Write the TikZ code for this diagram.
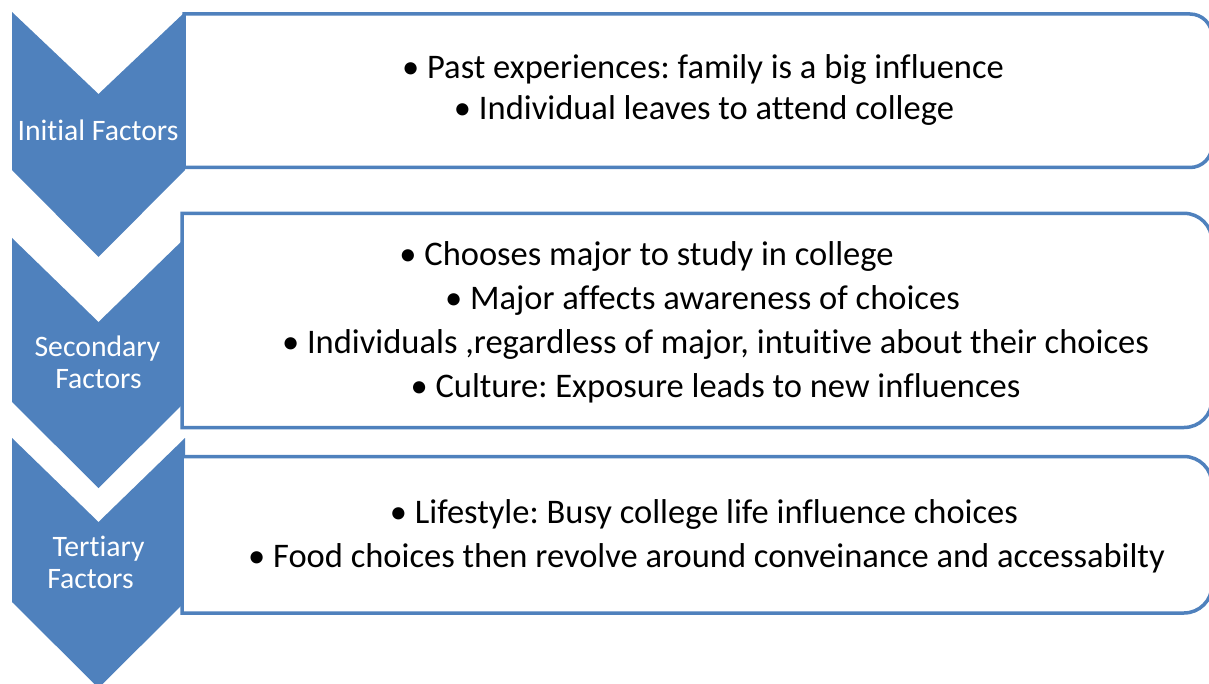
\documentclass[tikz,border=0pt]{standalone}
\usepackage{fontspec}
\setmainfont{Carlito}[Ligatures=NoCommon]
\frenchspacing
\definecolor{accent}{HTML}{4F81BD}
\tikzset{
  chev/.style={fill=accent, draw=none},
  listbox/.style={draw=accent, line width=3.5pt, fill=white},
  bodytxt/.style={anchor=base, inner sep=0pt, text=black, font=\fontsize{34.5}{40}\selectfont},
  chevtxt/.style={anchor=base, inner sep=0pt, text=white, font=\fontsize{29.7}{34}\selectfont},
}
\begin{document}
\begin{tikzpicture}[x=1pt,y=1pt]
\useasboundingbox (0,0) rectangle (1209,-684);
\begin{scope}
\clip (0,0) rectangle (1209,-684);
% chevrons
\draw[chev] (12,-12) -- (98.5,-94) -- (185,-12) -- (185,-170) -- (98.5,-257) -- (12,-170) -- cycle;
\draw[chev] (12,-238) -- (98.5,-322) -- (185,-238) -- (185,-402) -- (98.5,-488) -- (12,-402) -- cycle;
\draw[chev] (12,-438) -- (98.5,-522) -- (185,-438) -- (185,-602) -- (98.5,-688) -- (12,-602) -- cycle;
% boxes
\draw[listbox] (184,-14) -- (1190,-14) arc[start angle=90,end angle=0,radius=22] -- (1212,-145.5) arc[start angle=0,end angle=-90,radius=22] -- (184,-167.5) -- cycle;
\draw[listbox] (182,-213.3) -- (1184,-213.3) arc[start angle=90,end angle=0,radius=28] -- (1212,-399.5) arc[start angle=0,end angle=-90,radius=28] -- (182,-427.5) -- cycle;
\draw[listbox] (182,-456.5) -- (1184,-456.5) arc[start angle=90,end angle=0,radius=28] -- (1212,-585) arc[start angle=0,end angle=-90,radius=28] -- (182,-613) -- cycle;
\end{scope}
% chevron labels
\node[chevtxt] (c1) at (98,-140.5) {Initial Factors};
\node[chevtxt] (c2a) at (97.5,-356) {Secondary};
\node[chevtxt] (c2b) at (98.5,-388) {Factors};
\node[chevtxt] (c3a) at (98.5,-556) {Tertiary};
\node[chevtxt] (c3b) at (90.5,-588) {Factors};
% box texts
\node[bodytxt] (t11) at (703,-78.5) {• Past experiences: family is a big influence};
\node[bodytxt] (t12) at (704,-120) {• Individual leaves to attend college};
\node[bodytxt] (t21) at (646.5,-265.5) {• Chooses major to study in college};
\node[bodytxt] (t22) at (702.5,-309) {• Major affects awareness of choices};
\node[bodytxt] (t23) at (715.5,-353) {• Individuals ,regardless of major, intuitive about their choices};
\node[bodytxt] (t24) at (715.5,-397) {• Culture: Exposure leads to new influences};
\node[bodytxt] (t31) at (704,-523) {• Lifestyle: Busy college life influence choices};
\node[bodytxt] (t32) at (706.5,-567) {• Food choices then revolve around conveinance and accessabilty};
\end{tikzpicture}
\end{document}
